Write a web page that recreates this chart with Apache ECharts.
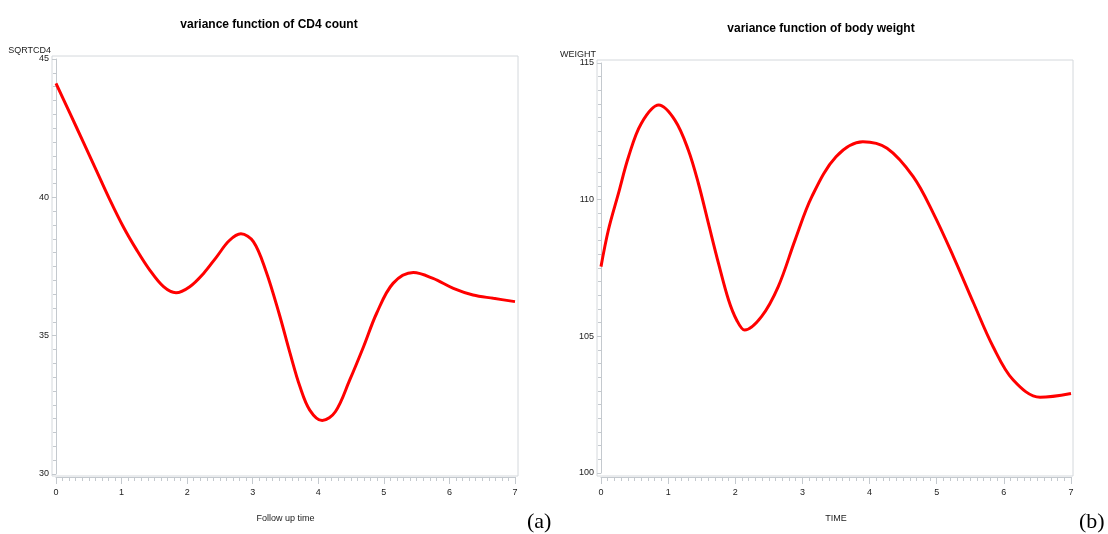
<!DOCTYPE html>
<html>
<head>
<meta charset="utf-8">
<script src="https://cdn.jsdelivr.net/npm/echarts@6/dist/echarts.min.js"></script>
<style>
  html, body { margin: 0; padding: 0; background: #fff; }
  #chart { width: 1108px; height: 534px; }
</style>
</head>
<body>
<div id="chart"></div>
<script>
// (a) variance function of CD4 count
var timeA = [0, 0.21, 0.42, 0.62, 0.82, 1.03, 1.23, 1.43, 1.64, 1.83, 2.04, 2.25, 2.45, 2.64, 2.82, 3.01,
             3.2, 3.4, 3.57, 3.72, 3.87, 4.06, 4.26, 4.48, 4.69, 4.89, 5.14, 5.45, 5.75, 6.06, 6.36, 6.67, 7.0];
var sqrtcd4 = [44.12, 43.05, 41.98, 40.95, 39.92, 38.92, 38.1, 37.37, 36.77, 36.55, 36.77, 37.25, 37.85, 38.43, 38.68, 38.4,
               37.35, 35.82, 34.36, 33.16, 32.31, 31.93, 32.25, 33.4, 34.6, 35.81, 36.89, 37.28, 37.07, 36.71, 36.47, 36.35, 36.23];

// (b) variance function of body weight
var timeB = [0, 0.11, 0.26, 0.41, 0.6, 0.86, 1.10, 1.30, 1.45, 1.60, 1.75, 1.90, 2.02, 2.14, 2.39, 2.64, 2.89,
             3.14, 3.5, 3.9, 4.26, 4.65, 4.95, 5.25, 5.55, 5.84, 6.14, 6.54, 7.0];
var weight = [107.55, 108.89, 110.23, 111.57, 112.79, 113.46, 112.91, 111.82, 110.6, 109.13, 107.67, 106.33, 105.6, 105.23, 105.72, 106.82, 108.52,
              110.11, 111.57, 112.12, 111.88, 110.84, 109.5, 107.91, 106.21, 104.62, 103.4, 102.77, 102.91];

var xTicks = [0, 7, 1];        // min, max, interval
var yTicksA = [30, 45, 5];
var yTicksB = [100, 115, 5];

function pairs(xs, ys) {
    var out = [];
    for (var i = 0; i < xs.length; i++) out.push([xs[i], ys[i]]);
    return out;
}

var axisGrey = '#c4c9ce';
var labelStyle = { fontFamily: 'Liberation Sans', fontSize: 9, color: '#222' };

function frameX(idx) { return { gridIndex: idx, type: 'value', show: false, min: 0, max: 1 }; }
function frameY(idx) { return { gridIndex: idx, type: 'value', show: false, min: 0, max: 1 }; }

function dataX(idx, name, offset) {
    return {
        gridIndex: idx, type: 'value', min: xTicks[0], max: xTicks[1], interval: xTicks[2],
        offset: offset,
        name: name, nameLocation: 'middle', nameGap: 37,
        nameTextStyle: { fontFamily: 'Liberation Sans', fontSize: 9, color: '#222' },
        axisLine: { show: true, lineStyle: { color: axisGrey, width: 1 } },
        axisTick: { show: true, length: 7, lineStyle: { color: axisGrey } },
        minorTick: { show: true, splitNumber: 10, length: 4, lineStyle: { color: axisGrey } },
        axisLabel: Object.assign({ margin: 11 }, labelStyle),
        splitLine: { show: false }
    };
}

function dataY(idx, name, t) {
    return {
        gridIndex: idx, type: 'value', min: t[0], max: t[1], interval: t[2],
        offset: 3,
        name: name, nameLocation: 'end', nameGap: 4,
        nameTextStyle: { fontFamily: 'Liberation Sans', fontSize: 9, color: '#222', align: 'right', padding: [0, 5, 0, 0] },
        axisLine: { show: true, lineStyle: { color: axisGrey, width: 1 } },
        axisTick: { show: true, length: 4, lineStyle: { color: axisGrey } },
        minorTick: { show: true, splitNumber: 10, length: 3, lineStyle: { color: axisGrey } },
        axisLabel: Object.assign({ margin: 4 }, labelStyle),
        splitLine: { show: false }
    };
}

var option = {
    animation: false,
    backgroundColor: '#fff',
    title: [
        { text: 'variance function of CD4 count', left: 264, top: 14, textAlign: 'center',
          textStyle: { fontFamily: 'Liberation Sans', fontSize: 12, fontWeight: 'bold', color: '#000' } },
        { text: 'variance function of body weight', left: 816, top: 18, textAlign: 'center',
          textStyle: { fontFamily: 'Liberation Sans', fontSize: 12, fontWeight: 'bold', color: '#000' } },
        { text: '(a)', left: 522, top: 506,
          textStyle: { fontFamily: 'Liberation Serif', fontSize: 22, fontWeight: 'normal', color: '#000' } },
        { text: '(b)', left: 1074, top: 506,
          textStyle: { fontFamily: 'Liberation Serif', fontSize: 22, fontWeight: 'normal', color: '#000' } }
    ],
    grid: [
        // frames
        { left: 52, top: 56, width: 466, height: 420, show: true, borderColor: '#d4d8dc', borderWidth: 1, backgroundColor: 'transparent' },
        { left: 597, top: 60, width: 476, height: 416, show: true, borderColor: '#d4d8dc', borderWidth: 1, backgroundColor: 'transparent' },
        // plotting areas
        { left: 56, top: 59, width: 459, height: 415 },
        { left: 601, top: 63, width: 470, height: 410 }
    ],
    xAxis: [frameX(0), frameX(1), dataX(2, 'Follow up time', 3), dataX(3, 'TIME', 4)],
    yAxis: [frameY(0), frameY(1), dataY(2, 'SQRTCD4', yTicksA), dataY(3, 'WEIGHT', yTicksB)],
    series: [
        { type: 'line', xAxisIndex: 2, yAxisIndex: 2, data: pairs(timeA, sqrtcd4), smooth: 0.35,
          showSymbol: false, lineStyle: { color: '#ff0000', width: 3 } },
        { type: 'line', xAxisIndex: 3, yAxisIndex: 3, data: pairs(timeB, weight), smooth: 0.35,
          showSymbol: false, lineStyle: { color: '#ff0000', width: 3 } }
    ]
};

var myChart = echarts.init(document.getElementById('chart'));
myChart.setOption(option);
</script>
</body>
</html>
